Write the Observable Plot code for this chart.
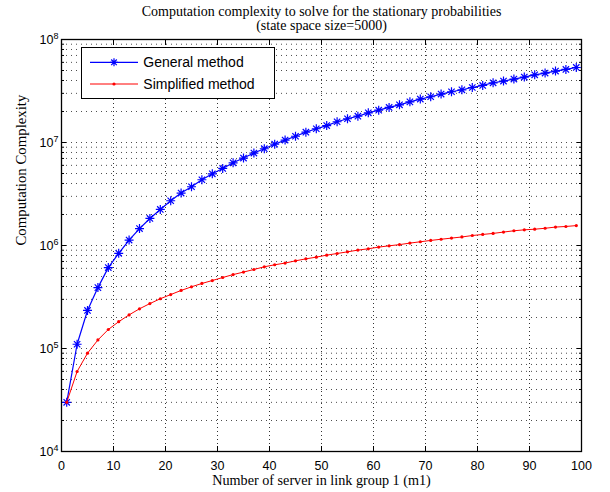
<!DOCTYPE html>
<html><head><meta charset="utf-8">
<script src="https://cdn.jsdelivr.net/npm/d3@7"></script>
<script src="https://cdn.jsdelivr.net/npm/@observablehq/plot@0.6"></script>
<style>
body{margin:0;background:#fff;}
#wrap{position:relative;width:610px;height:492px;}
#legend{position:absolute;left:81px;top:47px;width:194px;height:52px;box-sizing:border-box;border:1px solid #000;background:#fff;}
#legend svg{position:absolute;left:0;top:0;}
</style></head><body><div id="wrap"></div>
<script>
// ---- data ----
const m1 = [1,3,5,7,9,11,13,15,17,19,21,23,25,27,29,31,33,35,37,39,41,43,45,47,49,51,53,55,57,59,61,63,65,67,69,71,73,75,77,79,81,83,85,87,89,91,93,95,97,99];
const general = [3.0e4,1.1e5,2.34e5,3.9e5,6.1e5,8.4e5,1.13e6,1.46e6,1.83e6,2.24e6,2.72e6,3.23e6,3.72e6,4.35e6,4.97e6,5.6e6,6.35e6,7.06e6,7.9e6,8.7e6,9.63e6,1.055e7,1.15e7,1.26e7,1.36e7,1.46e7,1.59e7,1.70e7,1.80e7,1.94e7,2.06e7,2.19e7,2.32e7,2.48e7,2.64e7,2.78e7,2.95e7,3.11e7,3.25e7,3.42e7,3.58e7,3.80e7,3.95e7,4.13e7,4.32e7,4.54e7,4.72e7,4.94e7,5.12e7,5.35e7];
const simplified = [3.0e4,5.98e4,9.0e4,1.21e5,1.53e5,1.82e5,2.12e5,2.43e5,2.73e5,3.04e5,3.34e5,3.66e5,3.97e5,4.28e5,4.57e5,4.89e5,5.22e5,5.52e5,5.85e5,6.21e5,6.50e5,6.75e5,7.10e5,7.42e5,7.71e5,8.06e5,8.36e5,8.68e5,9.02e5,9.29e5,9.65e5,9.93e5,1.02e6,1.055e6,1.087e6,1.12e6,1.15e6,1.18e6,1.21e6,1.25e6,1.28e6,1.31e6,1.35e6,1.39e6,1.42e6,1.44e6,1.47e6,1.51e6,1.53e6,1.56e6];
const seriesNames = ["General method","Simplified method"];
const xTicks = [0,10,20,30,40,50,60,70,80,90,100];
const yMajor = [1e4,1e5,1e6,1e7,1e8];
const yMinorMultipliers = [2,3,4,5,6,7,8,9];
const titleLines = ["Computation complexity to solve for the stationary probabilities","(state space size=5000)"];
const xLabel = "Number of server in link group 1 (m1)";
const yLabel = "Computation Complexity";

// ---- build ----
const yMinor = yMajor.slice(0,-1).flatMap(p => yMinorMultipliers.map(k => k*p));
const yAll = yMajor.concat(yMinor);
const rows = m1.map((x,i)=>({m1:x, general:general[i], simplified:simplified[i]}));
const serif = "'Liberation Serif','Times New Roman',serif";
const sans = "'Liberation Sans',Arial,Helvetica,sans-serif";

const asterisk8 = {draw(ctx, size){
  const r = Math.sqrt(size/Math.PI), d = r*Math.SQRT1_2;
  ctx.moveTo(-r,0); ctx.lineTo(r,0);
  ctx.moveTo(0,-r); ctx.lineTo(0,r);
  ctx.moveTo(-d,-d); ctx.lineTo(d,d);
  ctx.moveTo(-d,d); ctx.lineTo(d,-d);
}};

const chart = Plot.plot({
  width:610, height:492,
  marginLeft:61, marginRight:29, marginTop:39, marginBottom:41,
  style:{fontFamily:sans, fontSize:"12.5px", background:"#fff", color:"#000"},
  x:{domain:[0,100]},
  y:{type:"log", domain:[1e4,1e8]},
  marks:[
    Plot.gridY(yAll, {stroke:"#000", strokeOpacity:0.7, strokeDasharray:"1,4"}),
    Plot.gridX(xTicks, {stroke:"#000", strokeOpacity:0.8, strokeDasharray:"1,3"}),
    Plot.axisY(yMajor, {anchor:"left", tickSize:0, tickPadding:3, tickFormat:d=>String(Math.round(Math.log10(d))), label:null}),
    Plot.axisY(yMajor, {anchor:"left", tickSize:-5, fill:"none", label:null}),
    Plot.axisY(yMajor, {anchor:"right", tickSize:-5, fill:"none", label:null}),
    Plot.axisY(yMinor, {anchor:"left", tickSize:-3, fill:"none", label:null}),
    Plot.axisY(yMinor, {anchor:"right", tickSize:-3, fill:"none", label:null}),
    Plot.axisX(xTicks, {anchor:"bottom", tickSize:0, tickPadding:10, label:null}),
    Plot.axisX(xTicks, {anchor:"bottom", tickSize:-5, fill:"none", label:null}),
    Plot.axisX(xTicks, {anchor:"top", tickSize:-5, fill:"none", label:null}),
    Plot.frame({stroke:"#000", strokeWidth:1.3}),
    Plot.line(rows, {x:"m1", y:"general", stroke:"#0000ff", strokeWidth:1.2}),
    Plot.dot(rows, {x:"m1", y:"general", r:4.5, symbol:asterisk8, stroke:"#0000ff", strokeWidth:1.2, fill:"none"}),
    Plot.line(rows, {x:"m1", y:"simplified", stroke:"#ff0000", strokeWidth:1}),
    Plot.dot(rows, {x:"m1", y:"simplified", r:1.6, fill:"#ff0000", stroke:"none"}),
    Plot.text([titleLines.join("\n")], {text:d=>d, frameAnchor:"top", lineAnchor:"top", lineHeight:1.0, dy:-33.4, fontFamily:serif, fontSize:14}),
    Plot.text([xLabel], {text:d=>d, frameAnchor:"bottom", dy:33.8, fontFamily:serif, fontSize:14.2}),
    Plot.text([yLabel], {text:d=>d, frameAnchor:"left", dx:-40.5, rotate:-90, fontFamily:serif, fontSize:14.8})
  ]
});

// superscript exponents on y tick labels
d3.select(chart).selectAll('g[aria-label="y-axis tick label"] text').each(function(){
  const e = this.textContent;
  const t = d3.select(this);
  t.text("10");
  t.append("tspan").attr("dy","-0.5em").attr("font-size","9px").text(e);
});

const wrap = document.getElementById("wrap");
wrap.appendChild(chart);

// legend
const lg = document.createElement("div");
lg.id = "legend";
lg.innerHTML = `<svg width="192" height="50" xmlns="http://www.w3.org/2000/svg" font-family="${sans.replace(/"/g,'')}" font-size="14">
  <line x1="8" x2="56" y1="14.3" y2="14.3" stroke="#0000ff" stroke-width="1.2"/>
  <path d="M28,14.3H36M32,10.3V18.3M29.2,11.5L34.8,17.1M29.2,17.1L34.8,11.5" stroke="#0000ff" stroke-width="1.2" fill="none"/>
  <text x="61.3" y="19.3">${seriesNames[0]}</text>
  <line x1="8" x2="56" y1="36" y2="36" stroke="#ff0000" stroke-width="1"/>
  <circle cx="32" cy="36" r="1.6" fill="#ff0000"/>
  <text x="61.3" y="41">${seriesNames[1]}</text>
</svg>`;
wrap.appendChild(lg);
</script></body></html>
